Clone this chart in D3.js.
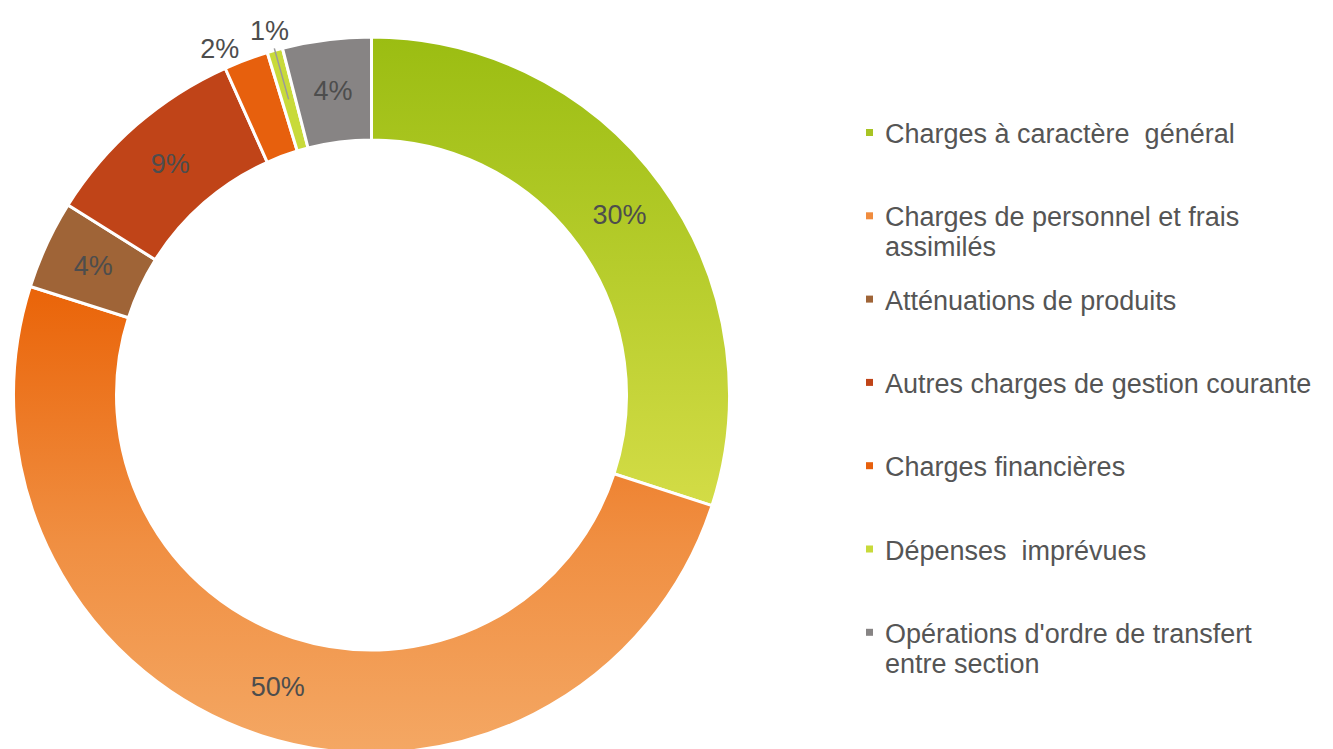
<!DOCTYPE html>
<html>
<head>
<meta charset="utf-8">
<script src="https://cdn.jsdelivr.net/npm/d3@7"></script>
<style>
  body { margin: 0; background: #fff; }
  svg { display: block; }
  text { font-family: "Liberation Sans", Arial, Helvetica, sans-serif; }
</style>
</head>
<body>
<div id="chart"></div>
<script>
// Categories (legend labels, "\n" = line break)
const categories = [
    "Charges à caractère  général",
    "Charges de personnel et frais\nassimilés",
    "Atténuations de produits",
    "Autres charges de gestion courante",
    "Charges financières",
    "Dépenses  imprévues",
    "Opérations d'ordre de transfert\nentre section"
];

// Share of the total, in percent
const values = [30.0, 49.9, 4.0, 9.4, 2.0, 0.7, 4.0];

// Slice colours
const sliceColors = ["url(#gradGreen)", "url(#gradOrange)", "#9f6437", "#c04418", "#e7600d", "#c8da3a", "#878484"];
const legendColors = ["#a8c423", "#f08c3e", "#9f6437", "#c04418", "#e7600d", "#c8da3a", "#878484"];

const width = 1333, height = 749;
const cx = 371.5, cy = 395;
const outerR = 358, innerR = 255;
const labelOutR = outerR + 20;

const svg = d3.select("#chart")
    .append("svg")
    .attr("width", width)
    .attr("height", height);

// Gradients (in the donut group's coordinates)
const defs = svg.append("defs");
const gGreen = defs.append("linearGradient")
    .attr("id", "gradGreen")
    .attr("gradientUnits", "userSpaceOnUse")
    .attr("x1", 0).attr("y1", -358).attr("x2", 0).attr("y2", 110);
gGreen.append("stop").attr("offset", 0).attr("stop-color", "#9bbd12");
gGreen.append("stop").attr("offset", 1).attr("stop-color", "#d3dc46");

const gOrange = defs.append("linearGradient")
    .attr("id", "gradOrange")
    .attr("gradientUnits", "userSpaceOnUse")
    .attr("x1", 0).attr("y1", -100).attr("x2", 0).attr("y2", 354);
gOrange.append("stop").attr("offset", 0).attr("stop-color", "#ea650a");
gOrange.append("stop").attr("offset", 0.55).attr("stop-color", "#f08f42");
gOrange.append("stop").attr("offset", 1).attr("stop-color", "#f4a763");

const g = svg.append("g")
    .attr("transform", `translate(${cx},${cy})`);

const total = d3.sum(values);
const pie = d3.pie().sort(null).value(d => d);
const arcs = pie(values);

const arc = d3.arc().innerRadius(innerR).outerRadius(outerR);
const midArc = d3.arc().innerRadius((innerR + outerR) / 2).outerRadius((innerR + outerR) / 2);

g.selectAll("path.slice")
    .data(arcs)
    .enter()
    .append("path")
    .attr("class", "slice")
    .attr("d", arc)
    .attr("fill", (d, i) => sliceColors[i])
    .attr("stroke", "#fff")
    .attr("stroke-width", 3)
    .attr("stroke-linejoin", "miter");

// Angles for labels; small slices get their label outside, pushed apart
const isSmall = d => d.value / total < 0.03;
arcs.forEach(d => { d.labelAngle = (d.startAngle + d.endAngle) / 2; });
const minGap = 8 * Math.PI / 180;
const outside = arcs.filter(isSmall);
for (let k = outside.length - 1; k > 0; k--) {
    const gap = outside[k].labelAngle - outside[k - 1].labelAngle;
    if (gap < minGap) outside[k - 1].labelAngle = outside[k].labelAngle - minGap;
}

// Leader line for the tiniest slice
const tiny = arcs.filter(d => d.value / total < 0.015);
g.selectAll("line.leader")
    .data(tiny)
    .enter()
    .append("line")
    .attr("class", "leader")
    .attr("x1", d => Math.sin((d.startAngle + d.endAngle) / 2) * 307)
    .attr("y1", d => -Math.cos((d.startAngle + d.endAngle) / 2) * 307)
    .attr("x2", d => Math.sin((d.startAngle + d.endAngle) / 2) * 360)
    .attr("y2", d => -Math.cos((d.startAngle + d.endAngle) / 2) * 360)
    .attr("stroke", "#9a9a9a")
    .attr("stroke-width", 1.5);

const pct = d3.format(".0%");
g.selectAll("text.pct")
    .data(arcs)
    .enter()
    .append("text")
    .attr("class", "pct")
    .attr("transform", d => {
        if (!isSmall(d)) return `translate(${midArc.centroid(d)})`;
        const x = Math.sin(d.labelAngle) * labelOutR;
        const y = -Math.cos(d.labelAngle) * labelOutR;
        return `translate(${x},${y})`;
    })
    .attr("text-anchor", "middle")
    .attr("dominant-baseline", "central")
    .attr("font-size", 27)
    .attr("fill", "#4d4d4d")
    .text(d => pct(d.value / total));

// Legend
const legend = svg.append("g")
    .attr("transform", "translate(866,143)");

const item = legend.selectAll("g.item")
    .data(categories)
    .enter()
    .append("g")
    .attr("class", "item")
    .attr("transform", (d, i) => `translate(0,${i * 83.3})`);

item.append("rect")
    .attr("x", 0)
    .attr("y", -14)
    .attr("width", 7)
    .attr("height", 7)
    .attr("fill", (d, i) => legendColors[i]);

item.append("text")
    .attr("x", 19)
    .attr("y", 0)
    .attr("font-size", 27)
    .attr("fill", "#555")
    .attr("xml:space", "preserve")
    .selectAll("tspan")
    .data(d => d.split("\n"))
    .enter()
    .append("tspan")
    .attr("x", 19)
    .attr("dy", (d, i) => i === 0 ? 0 : 30)
    .text(d => d);
</script>
</body>
</html>
